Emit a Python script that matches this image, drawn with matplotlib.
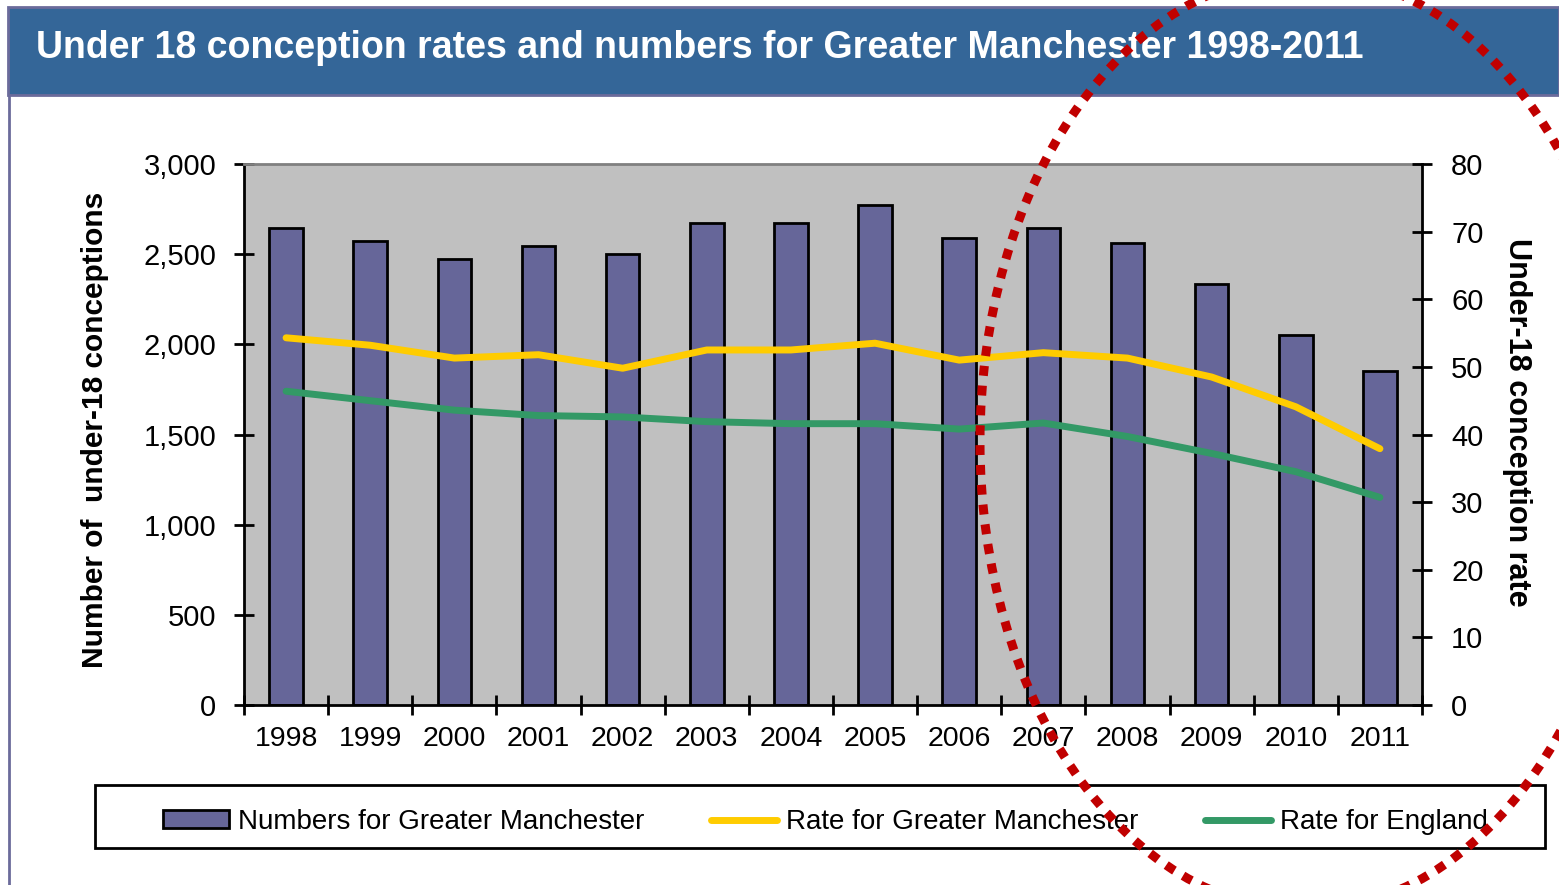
import matplotlib
matplotlib.use("Agg")
import matplotlib.pyplot as plt
from matplotlib.patches import Rectangle, Ellipse, Patch
from matplotlib.lines import Line2D
import numpy as np

years = ["1998", "1999", "2000", "2001", "2002", "2003", "2004",
         "2005", "2006", "2007", "2008", "2009", "2010", "2011"]
numbers_gm = [2645, 2573, 2473, 2545, 2501, 2673, 2673,
              2773, 2590, 2645, 2562, 2335, 2052, 1852]
rate_gm = [54.3, 53.2, 51.3, 51.8, 49.8, 52.5, 52.5,
           53.5, 51.0, 52.1, 51.3, 48.5, 44.1, 37.9]
rate_england = [46.4, 45.0, 43.6, 42.8, 42.6, 41.9, 41.6,
                41.6, 40.8, 41.7, 39.7, 37.2, 34.5, 30.7]
left_ticks = [0, 500, 1000, 1500, 2000, 2500, 3000]
right_ticks = [0, 10, 20, 30, 40, 50, 60, 70, 80]

title = "Under 18 conception rates and numbers for Greater Manchester 1998-2011"
left_label = "Number of  under-18 conceptions"
right_label = "Under-18 conception rate"
legend_labels = ["Numbers for Greater Manchester", "Rate for Greater Manchester", "Rate for England"]

plt.rcParams["font.family"] = ["Liberation Sans", "DejaVu Sans"]

W, H = 1559, 885
fig = plt.figure(figsize=(W / 100, H / 100), dpi=100)
fig.patch.set_facecolor("white")

def fx(px):
    return px / W

def fy(py):
    return 1 - py / H

# Title banner
fig.patches.append(Rectangle((fx(8), fy(95)), fx(1559) - fx(8), fy(7) - fy(95),
                             transform=fig.transFigure, facecolor="#346698",
                             edgecolor="#6B6B9B", linewidth=2, zorder=0))
fig.add_artist(Line2D([fx(9), fx(9)], [0, fy(95)], transform=fig.transFigure,
                      color="#6B6B9B", linewidth=2))
fig.text(fx(36), fy(48), title, color="white", fontsize=27, fontweight="bold",
         ha="left", va="center")

# Main axes
ax = fig.add_axes([fx(244), fy(705), fx(1422) - fx(244), fy(164) - fy(705)])
ax.set_facecolor("#C0C0C0")
x = np.arange(len(years))
ax.bar(x, numbers_gm, width=0.4, color="#666699", edgecolor="black", linewidth=2, zorder=2)
ax.set_xlim(-0.5, len(years) - 0.5)
ax.set_ylim(0, 3000)
ax.set_yticks(left_ticks)
ax.set_yticklabels([f"{v:,}" for v in left_ticks])
ax.set_xticks(x)
ax.set_xticklabels(years)
ax.set_xticks(np.arange(-0.5, len(years), 1.0), minor=True)
ax.tick_params(axis="x", which="major", length=0, labelsize=20.5, pad=15)
ax.tick_params(axis="x", which="minor", direction="inout", length=14, width=2)
ax.tick_params(axis="y", direction="inout", length=14, width=2, labelsize=21, pad=13)
for s in ["left", "bottom"]:
    ax.spines[s].set_linewidth(2)
    ax.spines[s].set_color("black")
ax.spines["top"].set_color("#808080")
ax.spines["top"].set_linewidth(2)
ax.spines["right"].set_visible(False)
ax.set_ylabel(left_label, fontsize=21.5, fontweight="bold", va="center", ha="center")
ax.yaxis.set_label_coords((95 - 244) / 1178, (705 - 430) / 541)

ax2 = ax.twinx()
ax2.set_ylim(0, 80)
ax2.set_yticks(right_ticks)
ax2.plot(x, rate_gm, color="#FFCC00", linewidth=5, solid_capstyle="round", zorder=3)
ax2.plot(x, rate_england, color="#339966", linewidth=5, solid_capstyle="round", zorder=3)
ax2.tick_params(axis="y", direction="inout", length=14, width=2, labelsize=21, pad=14)
ax2.spines["right"].set_linewidth(2)
ax2.spines["right"].set_color("black")
for s in ["left", "bottom", "top"]:
    ax2.spines[s].set_visible(False)
ax2.set_ylabel(right_label, fontsize=22, fontweight="bold", rotation=-90,
               va="center", ha="center")
ax2.yaxis.set_label_coords((1517 - 244) / 1178, (705 - 422) / 541)

# Legend
fig.patches.append(Rectangle((fx(95), fy(848)), fx(1545) - fx(95), fy(785) - fy(848),
                             transform=fig.transFigure, facecolor="white",
                             edgecolor="black", linewidth=2, zorder=1))
handles = [Patch(facecolor="#666699", edgecolor="black", linewidth=2),
           Line2D([], [], color="#FFCC00", linewidth=5, solid_capstyle="round"),
           Line2D([], [], color="#339966", linewidth=5, solid_capstyle="round")]
fig.legend(handles, legend_labels, loc="center", ncol=3, frameon=False,
           bbox_to_anchor=(fx(825), fy(822)), fontsize=20, handlelength=2.4,
           handleheight=0.6, handletextpad=0.3, columnspacing=2.4)

# Dotted red ellipse overlay
fig.patches.append(Ellipse((fx(1305), fy(442)), fx(650), 936 / H,
                           transform=fig.transFigure, fill=False,
                           edgecolor="#C00000", linewidth=6.5,
                           linestyle=(0, (1.1, 1.1)), zorder=10))

fig.savefig("out.png", dpi=100)
